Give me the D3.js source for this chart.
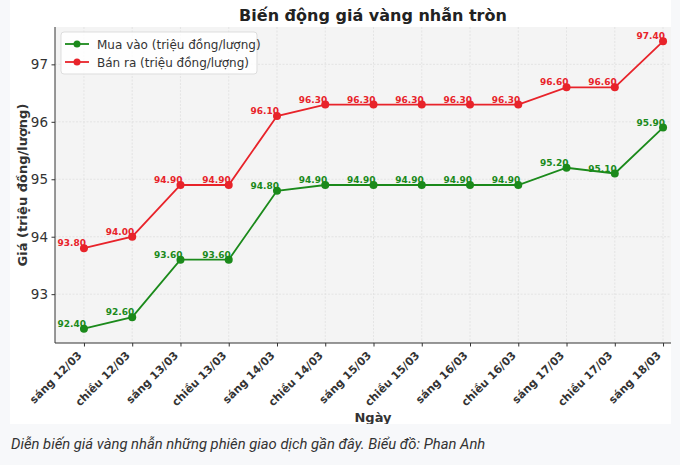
<!DOCTYPE html>
<html>
<head>
<meta charset="utf-8">
<script src="https://cdn.jsdelivr.net/npm/d3@7.9.0/dist/d3.min.js"></script>
<style>
  body { margin: 0; background: #f7f8fa; }
  svg { display: block; }
  .tick text { font-family: "DejaVu Sans", sans-serif; }
</style>
</head>
<body>
<svg id="chart" width="680" height="465"></svg>
<script>
const days = ["sáng 12/03", "chiều 12/03", "sáng 13/03", "chiều 13/03", "sáng 14/03", "chiều 14/03",
  "sáng 15/03", "chiều 15/03", "sáng 16/03", "chiều 16/03", "sáng 17/03", "chiều 17/03", "sáng 18/03"];
const buyPrices = [92.4, 92.6, 93.6, 93.6, 94.8, 94.9, 94.9, 94.9, 94.9, 94.9, 95.2, 95.1, 95.9];
const sellPrices = [93.8, 94.0, 94.9, 94.9, 96.1, 96.3, 96.3, 96.3, 96.3, 96.3, 96.6, 96.6, 97.4];
const yTicks = [93, 94, 95, 96, 97];

const series = [
  { name: "Mua vào (triệu đồng/lượng)", values: buyPrices, color: "#1b8a1b" },
  { name: "Bán ra (triệu đồng/lượng)", values: sellPrices, color: "#e8232a" }
];

const svg = d3.select("#chart");
const plot = { left: 55, right: 692, top: 27, bottom: 343 };

// white image area, the chart is cropped on the right
svg.append("defs").append("clipPath").attr("id", "img")
  .append("rect").attr("x", 10).attr("y", 0).attr("width", 661).attr("height", 424);
svg.append("rect").attr("x", 10).attr("y", 0).attr("width", 661).attr("height", 424).attr("fill", "#fff");

const g = svg.append("g").attr("clip-path", "url(#img)");

const x = d3.scaleLinear().domain([-0.6, days.length - 1 + 0.6]).range([plot.left, plot.right]);
const y = d3.scaleLinear().domain([92.15, 97.65]).range([plot.bottom, plot.top]);

g.append("rect")
  .attr("x", plot.left).attr("y", plot.top)
  .attr("width", plot.right - plot.left).attr("height", plot.bottom - plot.top)
  .attr("fill", "#f4f4f4");

// grid
g.append("g").selectAll("line").data(days).join("line")
  .attr("x1", (d, i) => x(i)).attr("x2", (d, i) => x(i))
  .attr("y1", plot.top).attr("y2", plot.bottom)
  .attr("stroke", "#e0e0e0").attr("stroke-width", 0.8).attr("stroke-dasharray", "2,1.5");
g.append("g").selectAll("line").data(yTicks).join("line")
  .attr("x1", plot.left).attr("x2", plot.right)
  .attr("y1", d => y(d)).attr("y2", d => y(d))
  .attr("stroke", "#e0e0e0").attr("stroke-width", 0.8).attr("stroke-dasharray", "2,1.5");

// axes
const yAxis = g.append("g").attr("transform", `translate(${plot.left},0)`)
  .call(d3.axisLeft(y).tickValues(yTicks).tickSize(3.5).tickPadding(3.5).tickFormat(d3.format("d")));
yAxis.select(".domain").attr("d", `M0,${plot.top}V${plot.bottom}`).attr("stroke", "#333");
yAxis.selectAll(".tick line").attr("stroke", "#333");
yAxis.selectAll(".tick text").attr("font-size", 13.5).attr("fill", "#333");

const xAxis = g.append("g").attr("transform", `translate(0,${plot.bottom})`)
  .call(d3.axisBottom(x).tickValues(d3.range(days.length)).tickSize(3.5).tickFormat(i => days[i]));
xAxis.select(".domain").attr("d", `M${plot.left},0H${plot.right}`).attr("stroke", "#333");
xAxis.selectAll(".tick line").attr("stroke", "#333");
xAxis.selectAll(".tick text")
  .attr("font-size", 11).attr("font-weight", "bold").attr("fill", "#333")
  .attr("text-anchor", "end").attr("dy", null).attr("y", null)
  .attr("transform", "translate(-2,13) rotate(-45)");

// lines, markers, labels
const line = d3.line().x((d, i) => x(i)).y(d => y(d));
series.forEach(s => {
  g.append("path").datum(s.values)
    .attr("d", line).attr("fill", "none")
    .attr("stroke", s.color).attr("stroke-width", 1.8);
  g.append("g").selectAll("circle").data(s.values).join("circle")
    .attr("cx", (d, i) => x(i)).attr("cy", d => y(d)).attr("r", 4)
    .attr("fill", s.color);
  g.append("g").selectAll("text").data(s.values).join("text")
    .attr("x", (d, i) => x(i) + 2).attr("y", d => y(d) - 2)
    .attr("text-anchor", "end")
    .attr("font-family", "DejaVu Sans, sans-serif").attr("font-size", 9).attr("font-weight", "bold")
    .attr("fill", s.color)
    .text(d => d.toFixed(2));
});

// legend
const legend = g.append("g");
legend.append("rect")
  .attr("x", 61).attr("y", 32).attr("width", 196).attr("height", 42).attr("rx", 3)
  .attr("fill", "#fff").attr("fill-opacity", 0.85).attr("stroke", "#ddd");
series.forEach((s, i) => {
  const ly = 44 + i * 18;
  legend.append("line").attr("x1", 65).attr("x2", 89).attr("y1", ly).attr("y2", ly)
    .attr("stroke", s.color).attr("stroke-width", 1.8);
  legend.append("circle").attr("cx", 77).attr("cy", ly).attr("r", 3.5).attr("fill", s.color);
  legend.append("text").attr("x", 97).attr("y", ly + 4.5)
    .attr("font-family", "DejaVu Sans, sans-serif").attr("font-size", 12).attr("fill", "#333")
    .text(s.name);
});

// titles
g.append("text").attr("x", 373).attr("y", 21).attr("text-anchor", "middle")
  .attr("font-family", "DejaVu Sans, sans-serif").attr("font-size", 16).attr("font-weight", "bold")
  .attr("fill", "#222").text("Biến động giá vàng nhẫn tròn");
g.append("text").attr("transform", `translate(27,${(plot.top + plot.bottom) / 2}) rotate(-90)`)
  .attr("text-anchor", "middle")
  .attr("font-family", "DejaVu Sans, sans-serif").attr("font-size", 13).attr("font-weight", "bold")
  .attr("fill", "#333").text("Giá (triệu đồng/lượng)");
g.append("text").attr("x", 373).attr("y", 422).attr("text-anchor", "middle")
  .attr("font-family", "DejaVu Sans, sans-serif").attr("font-size", 13).attr("font-weight", "bold")
  .attr("fill", "#333").text("Ngày");

// caption
svg.append("text").attr("x", 11).attr("y", 449)
  .attr("font-family", "Roboto, sans-serif").attr("font-size", 14.8).attr("font-style", "italic")
  .attr("fill", "#333")
  .text("Diễn biến giá vàng nhẫn những phiên giao dịch gần đây. Biểu đồ: Phan Anh");
</script>
</body>
</html>
